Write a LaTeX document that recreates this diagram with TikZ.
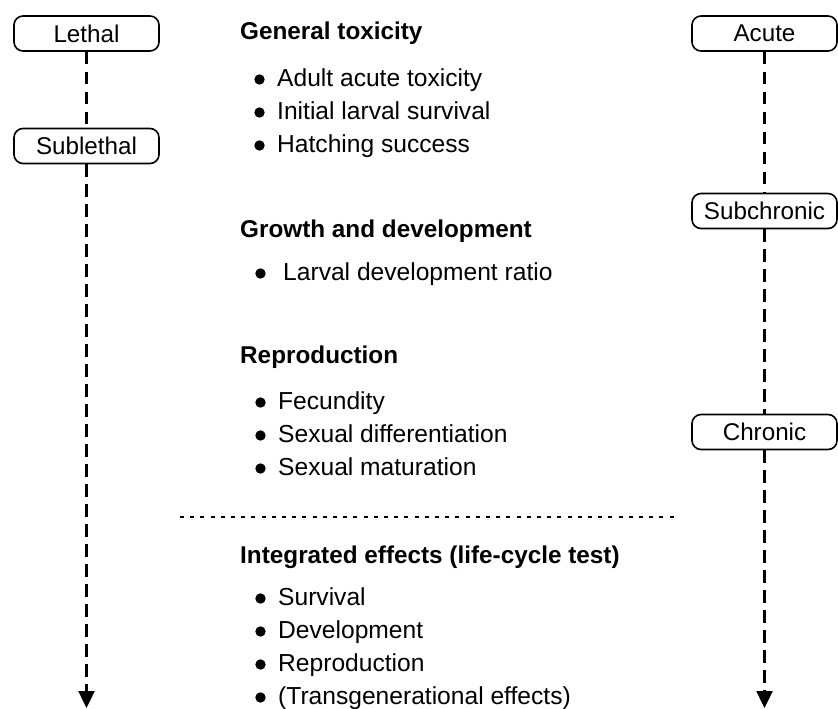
\documentclass[tikz,border=0pt]{standalone}
\usepackage{fontspec}
\setmainfont{Liberation Sans}
\usetikzlibrary{arrows.meta,calc}
\begin{document}
\begin{tikzpicture}[x=1pt,y=-1pt,
  every node/.style={font=\fontsize{24.6}{28}\selectfont},
  lvl/.style={draw=black, line width=1.6pt, rounded corners=9pt, minimum width=145pt, minimum height=35pt, inner sep=0pt, font=\fontsize{24.2}{28}\selectfont},
  head/.style={anchor=base west, inner sep=0pt, font=\fontsize{24.3}{28}\selectfont\bfseries},
  item/.style={anchor=base west, inner sep=0pt},
  scale line/.style={line width=2.4pt, dash pattern=on 12.5pt off 7.5pt},
  sep line/.style={line width=1.4pt, dash pattern=on 4pt off 6.2pt},
  arr/.style={-{Triangle[length=17pt,width=16pt]}}
]
\useasboundingbox (0,0) rectangle (838,709);

% left scale
\node[lvl] (lethal) at (86.5,33.5) {Lethal};
\node[lvl] (sublethal) at (86.5,146) {Sublethal};
\coordinate (lend) at (86.5,708);
\draw[scale line] (lethal.south) -- (sublethal.north);
\draw[scale line, arr] (sublethal.south) -- (lend);

% right scale
\node[lvl] (acute) at (764.5,33.5) {Acute};
\node[lvl] (subchronic) at (764.5,211) {Subchronic};
\node[lvl] (chronic) at (764.5,432) {Chronic};
\coordinate (rend) at (764.5,708);
\draw[scale line] (acute.south) -- (subchronic.north);
\draw[scale line] (subchronic.south) -- (chronic.north);
\draw[scale line, arr] (chronic.south) -- (rend);

% texts
\node[head] (h1) at (240,40) {General toxicity};
\node[item] (i11) at (277,86) {Adult acute toxicity};
\node[item] (i12) at (277,119) {Initial larval survival};
\node[item] (i13) at (277,152) {Hatching success};

\node[head] (h2) at (240,237) {Growth and development};
\node[item] (i21) at (283,280) {Larval development ratio};

\node[head] (h3) at (240,363) {Reproduction};
\node[item] (i31) at (278,409) {Fecundity};
\node[item] (i32) at (278,442) {Sexual differentiation};
\node[item] (i33) at (278,475) {Sexual maturation};

\coordinate (sepl) at (180,517);
\coordinate (sepr) at (676,517);
\draw[sep line] (sepl) -- (sepr);

\node[head] (h4) at (240,563) {Integrated effects (life-cycle test)};
\node[item] (i41) at (278,605) {Survival};
\node[item] (i42) at (278,638) {Development};
\node[item] (i43) at (278,671) {Reproduction};
\node[item] (i44) at (278,704) {(Transgenerational effects)};

% bullets
\foreach \n in {i11,i12,i13,i31,i32,i33,i41,i42,i43,i44}{
  \fill ($(\n.base west)+(-17.5,-6.5)$) circle (5.2pt);
}
\fill ($(i21.base west)+(-22.5,-6.5)$) circle (5.2pt);
\end{tikzpicture}
\end{document}
